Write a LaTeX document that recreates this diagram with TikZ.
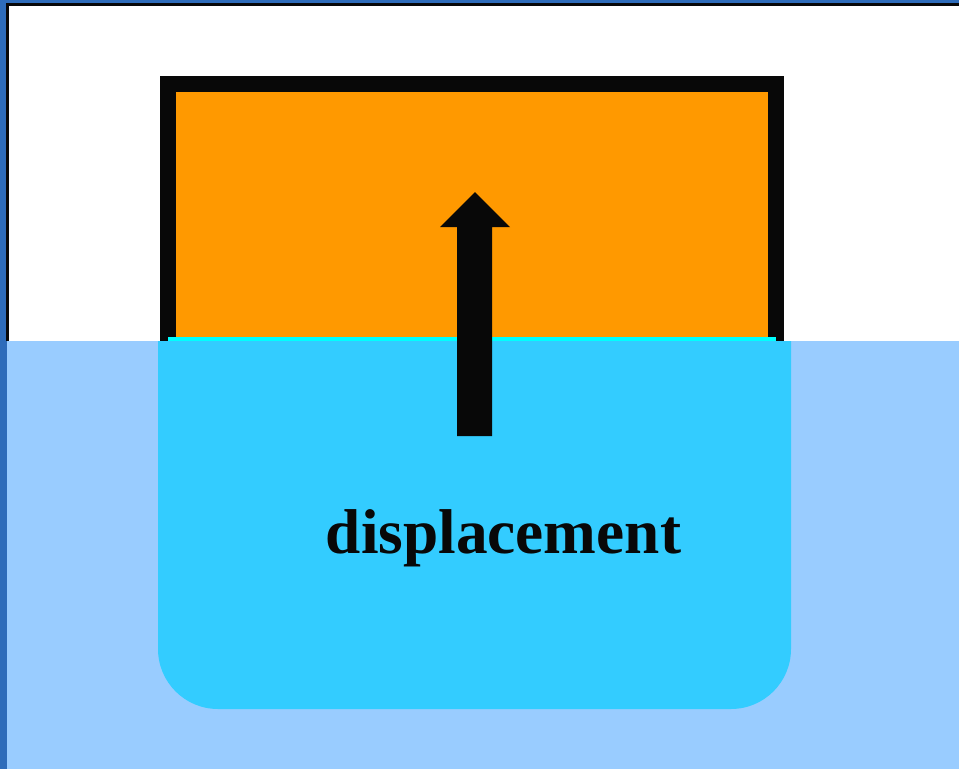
\documentclass[tikz,border=0pt]{standalone}
\usepackage{fontspec}
\setmainfont{Liberation Serif}
\definecolor{frameblue}{RGB}{46,108,186}
\definecolor{skyblue}{RGB}{153,204,255}
\definecolor{bowlblue}{RGB}{51,204,255}
\definecolor{waterline}{RGB}{0,255,255}
\definecolor{boxorange}{RGB}{255,153,0}
\definecolor{inkblack}{RGB}{8,8,8}

\begin{document}
\begin{tikzpicture}[x=1pt, y=-1pt]
        \tikzset{wordlabel/.style={inner sep=0pt, anchor=base, text=inkblack, font=\fontsize{63.3}{70}\selectfont\bfseries}}
        \useasboundingbox (0,0) rectangle (959,769);
        % frame and background
        \fill[frameblue] (0,0) rectangle (959,769);
        \fill[inkblack] (6,3) rectangle (959,341);
        \fill[white] (9,6) rectangle (959,341);
        \fill[skyblue] (7,341) rectangle (959,769);
        % floating box
        \fill[inkblack] (160,76) rectangle (784,341);
        \fill[boxorange] (176,92) rectangle (768,341);
        % displaced water
        \fill[bowlblue] (158,341) -- (158,649) arc[start angle=180, end angle=90, radius=60] -- (731,709) arc[start angle=90, end angle=0, radius=60] -- (791,341) -- cycle;
        \fill[waterline] (168,337) rectangle (776,341);
        % buoyancy arrow
        \fill[inkblack] (457,436) -- (457,227) -- (440,227) -- (475,192) -- (510,227) -- (492,227) -- (492,436) -- cycle;
        \node[wordlabel] (disp) at (503.5,553) {displacement};
    \end{tikzpicture}
\end{document}
